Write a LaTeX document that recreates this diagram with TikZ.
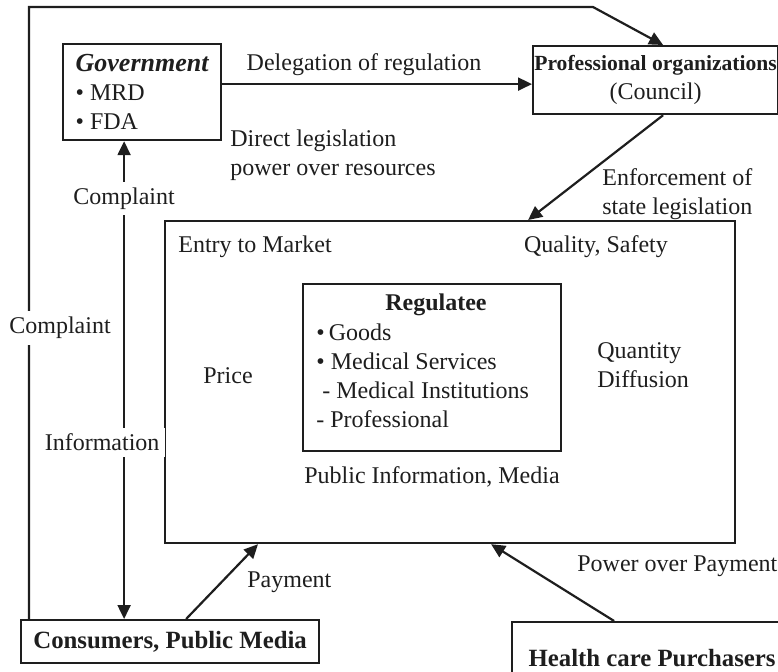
\documentclass[tikz,border=0pt]{standalone}
\usepackage{fontspec}
\setmainfont{Liberation Serif}
\usepackage{tikz}
\usetikzlibrary{arrows.meta,calc,positioning}
\definecolor{ink}{RGB}{30,30,30}

\begin{document}
\begin{tikzpicture}[x=0.5pt,y=-0.5pt,
  every node/.append style={text=ink,inner sep=1pt,font=\fontsize{12}{14.5}\selectfont},
  box/.style={draw=ink,line width=1.1pt,inner sep=0pt},
  flow/.style={draw=ink,line width=1.1pt,-{Triangle[length=7pt,width=6.5pt]}},
  both/.style={flow,{Triangle[length=7pt,width=6.5pt]}-{Triangle[length=7pt,width=6.5pt]}},
  gap/.style={fill=white,inner sep=3pt}]
\clip (0,0) rectangle (778,671);

% actors
\node[box,anchor=north west,minimum width=79pt,minimum height=48pt,align=left] (gov) at (62,43)
  {{\fontsize{13}{14.5}\selectfont\bfseries\itshape Government}\\ \textbullet\ MRD\\ \textbullet\ FDA};
\node[box,anchor=north west,minimum width=122.5pt,minimum height=34pt,align=center] (prof) at (532,45)
  {{\fontsize{10.8}{15.5}\selectfont\bfseries Professional organizations}\\(Council)};
\node[box,anchor=north west,minimum width=285pt,minimum height=161pt] (market) at (164,220) {};
\node[box,anchor=north west,minimum width=129pt,minimum height=83.5pt] (regulatee) at (302,283) {};
\node[box,anchor=north west,minimum width=149pt,minimum height=21.5pt,
  font=\fontsize{12.4}{14.5}\selectfont\bfseries] (consumers) at (20,619) {Consumers, Public Media};
\node[box,anchor=north west,minimum width=140pt,minimum height=36pt,
  font=\fontsize{12.4}{14.5}\selectfont\bfseries] (purchasers) at (511,621) {Health care Purchasers};

% regulatee
\node (regtitle) at (436,305) {\bfseries Regulatee};
\node[anchor=west,align=left] (reglist) at (314,376)
  {\textbullet\,Goods\\ \textbullet\ Medical Services\\ \ - Medical Institutions\\ - Professional};

% market labels
\node[anchor=west] (entry) at (176,247) {Entry to Market};
\node (quality) at (596,247) {Quality, Safety};
\node (price) at (228,376) {Price};
\node[anchor=west,align=left] (quantity) at (595,365) {Quantity\\Diffusion};
\node (public) at (432,477) {Public Information, Media};

% flow labels
\node (deleg) at (364,65) {Delegation of regulation};
\node[anchor=west,align=left] (direct) at (228,155) {Direct legislation\\power over resources};
\node[anchor=west,align=left] (enforce) at (600,194) {Enforcement of\\state legislation};
\node[anchor=west] (payment) at (245,582) {Payment};
\node[anchor=west] (power) at (575,566) {Power over Payment};

% connectors
\draw[flow] ([yshift=4pt]gov.east) -- ([yshift=4pt]gov.east -| prof.west);
\draw[flow] ([xshift=3.75pt]prof.south) -- ([xshift=39pt]market.north);
\draw[both] ([xshift=-9pt]gov.south) -- ([xshift=-9pt]gov.south |- consumers.north)
  node[gap,pos=0.12] {Complaint}
  node[gap,pos=0.63,xshift=-11pt] {Information};
\coordinate (corner) at (593,7);
\draw[flow] ([xshift=4.5pt]consumers.north west) |- (corner) -- ([xshift=3.75pt]prof.north);
\node[gap] (complaint2) at (60,328) {Complaint};
\draw[flow] ([xshift=8pt]consumers.north) -- ([xshift=47pt]market.south west);
\draw[flow] ([xshift=-19pt]purchasers.north) -- ([xshift=20.5pt]market.south);
\end{tikzpicture}
\end{document}
